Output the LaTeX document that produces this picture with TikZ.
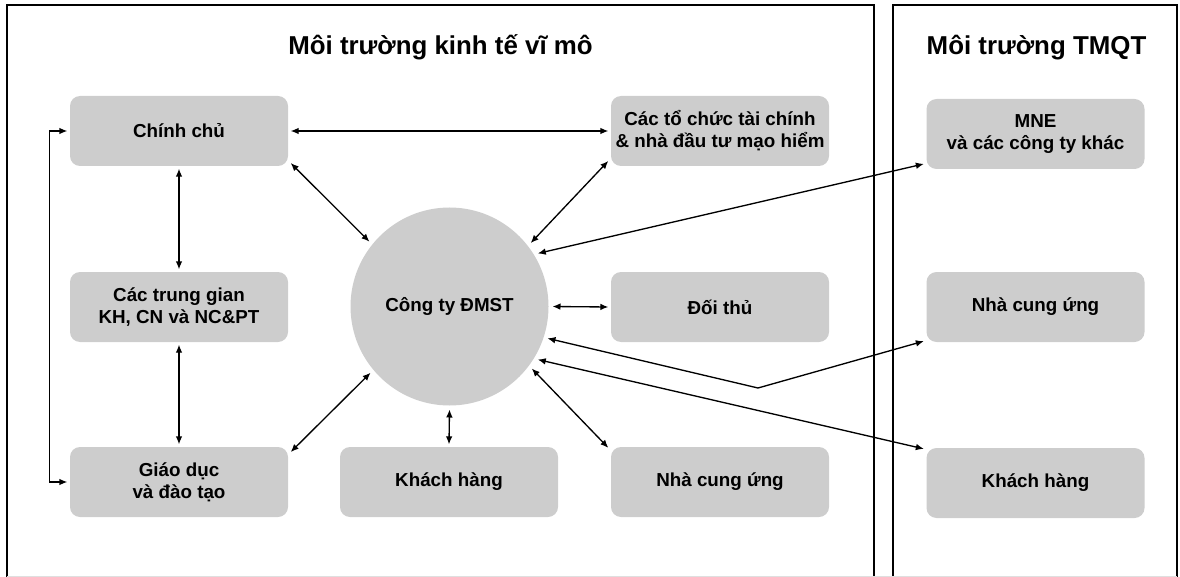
\documentclass[tikz,border=0pt]{standalone}
\usepackage{fontspec}
\setmainfont{Liberation Sans}
\usetikzlibrary{arrows.meta}
\definecolor{boxgray}{RGB}{205,205,205}

\begin{document}
\begin{tikzpicture}[x=0.75pt, y=-0.75pt,
  box/.style={fill=boxgray, rounded corners=7.5pt, minimum width=163.5pt, minimum height=52.5pt,
    align=center, inner sep=0pt, outer sep=2pt, font=\bfseries\fontsize{14.1}{16.5}\selectfont},
  heading/.style={font=\bfseries\fontsize{19.4}{22}\selectfont},
  link/.style={<->, >={Latex[length=6pt,width=5pt]}, line width=1pt},
  frame/.style={line width=1pt}]

\useasboundingbox (0,0) rectangle (1180,577);

% Draw the two frames
\draw [frame] (7,577) -- (7,5) -- (874,5) -- (874,577);
\draw [frame] (893,577) -- (893,5) -- (1177,5) -- (1177,577);
\draw [gray!25] (7,576) -- (1177,576);

\node [heading] (vimo) at (440.5,47) {Môi trường kinh tế vĩ mô};
\node [heading] (tmqt) at (1036.5,48) {Môi trường TMQT};

% Boxes of the macro environment
\node [box] (chinhchu)  at (179,131) {Chính chủ};
\node [box] (trunggian) at (179,307) {Các trung gian\\KH, CN và NC\&PT};
\node [box] (giaoduc)   at (179,482) {Giáo dục\\và đào tạo};
\node [box] (khachhang) at (449,482) {Khách hàng};
\node [box] (cungung)   at (720,482) {Nhà cung ứng};
\node [box] (doithu)    at (720,307) {Đối thủ};
\node [box] (taichinh)  at (720,131) {Các tổ chức tài chính\\\& nhà đầu tư mạo hiểm};

\node [circle, fill=boxgray, minimum size=148.5pt, inner sep=0pt, outer sep=3pt,
  font=\bfseries\fontsize{14.1}{16.5}\selectfont] (dmst) at (449.5,306.5) {Công ty ĐMST};

% Boxes of the international environment
\node [box] (mne)        at (1035.5,134) {MNE\\và các công ty khác};
\node [box] (cungungqt)  at (1035.5,307) {Nhà cung ứng};
\node [box] (khachhangqt) at (1035.5,483) {Khách hàng};

% Links inside the macro environment
\draw [link] (chinhchu.east) -- (taichinh.west);
\draw [link] (chinhchu.south) -- (trunggian.north);
\draw [link] (trunggian.south) -- (giaoduc.north);
\draw [link] (chinhchu.west) -- ++(-18,0) |- (giaoduc.west);

\draw [link] (chinhchu.-16) -- (dmst.141);
\draw [link] (taichinh.195) -- (dmst.38);
\draw [link] (giaoduc.15) -- (dmst.-140);
\draw [link] (cungung.163) -- (dmst.-37);
\draw [link] (khachhang.north) -- (dmst.south);
\draw [link] (doithu.west) -- (dmst.east);

% Links to the international environment
\coordinate (gap) at (758,388);
\draw [link] (mne.195) -- (dmst.31.6);
\draw [link] (dmst.-18) -- (gap) -- (cungungqt.197);
\draw [link] (khachhangqt.163) -- (dmst.-31);

\end{tikzpicture}
\end{document}
